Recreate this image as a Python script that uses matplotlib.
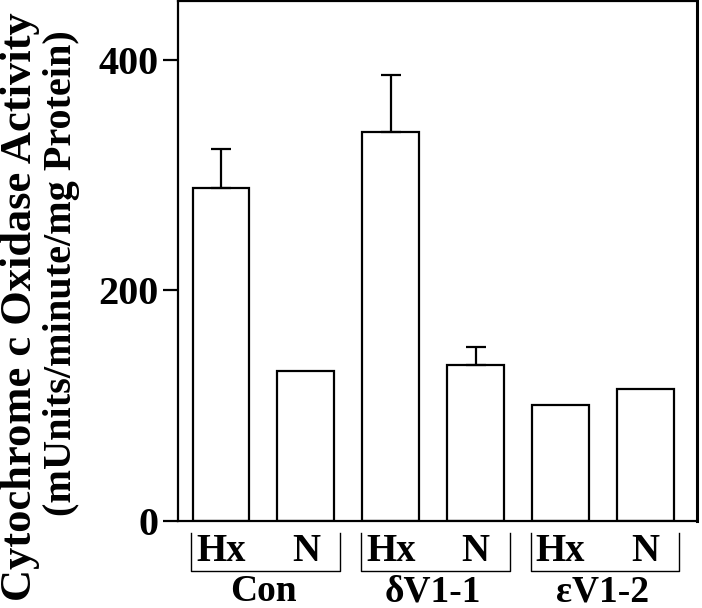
import matplotlib
matplotlib.use("Agg")
import matplotlib.pyplot as plt
import numpy as np

# data
groups = ["Con", "\u03b4V1-1", "\u03b5V1-2"]
conditions = ["Hx", "N"]
activity = [289, 130.5, 337, 135, 101, 114.5]
err_up = [34, 0, 50, 16, 0, 0]

plt.rcParams["font.family"] = ["Liberation Serif", "DejaVu Serif"]
plt.rcParams["font.weight"] = "bold"

fig = plt.figure(figsize=(7.02, 6.08), dpi=100)
ax = fig.add_axes([0.2536, 0.1431, 0.7393, 0.8553])

x = np.arange(len(activity))
ax.bar(x, activity, width=0.67, color="white", edgecolor="black", linewidth=1.6)
errs = np.array([[0] * len(err_up), err_up])
mask = np.array(err_up) > 0
ax.errorbar(x[mask], np.array(activity)[mask], yerr=errs[:, mask], fmt="none",
            ecolor="black", elinewidth=1.6, capsize=7, capthick=1.6)

ax.set_xlim(-0.507, 5.61)
ax.set_ylim(0, 451)
ax.set_yticks([0, 200, 400])
ax.set_xticks([])
ax.tick_params(axis="y", direction="out", length=11, width=1.6, labelsize=29, pad=3)
for s in ax.spines.values():
    s.set_linewidth(1.6)
ax.spines["right"].set_linewidth(2.2)

# bracket labels under the bars
trans = ax.get_xaxis_transform()
for i, g in enumerate(groups):
    x0 = 2 * i - 0.35
    x1 = 2 * i + 1.4
    ax.plot([x0, x0, x1, x1], [-0.023, -0.096, -0.096, -0.023], color="black",
            lw=1.0, transform=trans, clip_on=False)
    for j, c in enumerate(conditions):
        ax.text(2 * i + j, -0.058, c, transform=trans, ha="center", va="center",
                fontsize=28, fontweight="bold")
    ax.text(2 * i + 0.5, -0.136, g, transform=trans, ha="center", va="center",
            fontsize=27, fontweight="bold")

fig.text(20 / 702, 0.495, "Cytochrome c Oxidase Activity", rotation=90,
         ha="center", va="center", fontsize=32, fontweight="bold")
fig.text(61 / 702, 0.551, "(mUnits/minute/mg Protein)", rotation=90,
         ha="center", va="center", fontsize=29, fontweight="bold")

fig.savefig("out.png", dpi=100)
